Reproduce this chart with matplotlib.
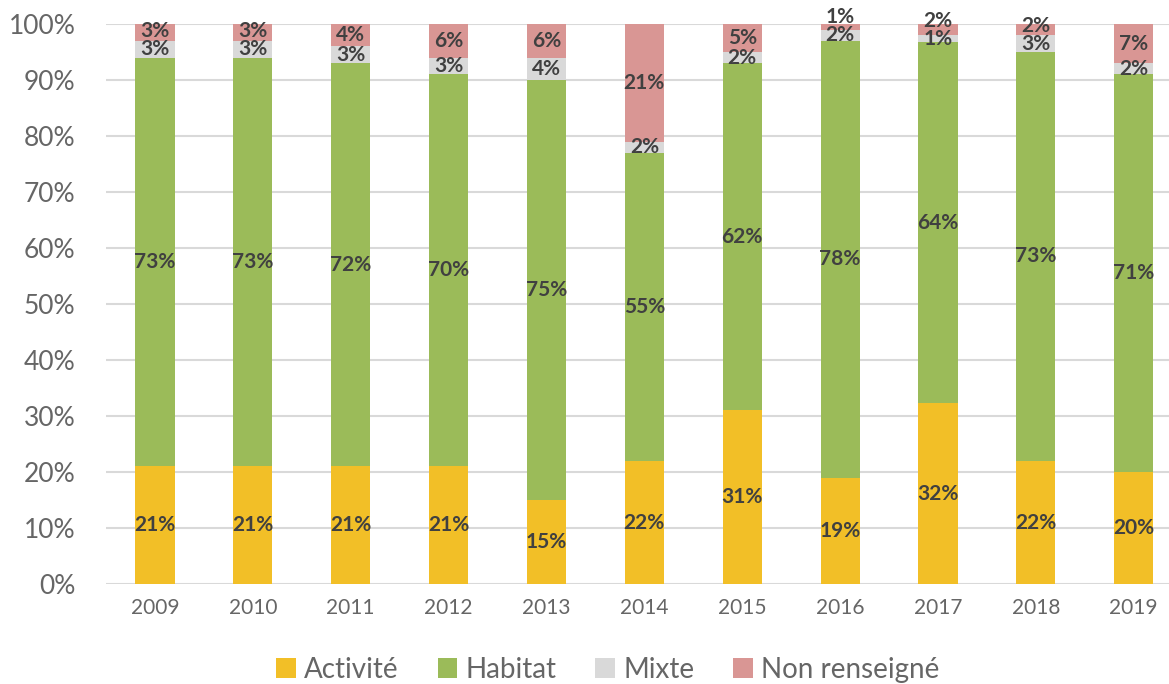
import numpy as np
import matplotlib
matplotlib.use('Agg')
import matplotlib.pyplot as plt

years = ['2009', '2010', '2011', '2012', '2013', '2014', '2015', '2016', '2017', '2018', '2019']
activite = [21, 21, 21, 21, 15, 22, 31, 19, 32.3, 22, 20]
habitat = [73, 73, 72, 70, 75, 55, 62, 78, 64.4, 73, 71]
mixte = [3, 3, 3, 3, 4, 2, 2, 2, 1.3, 3, 2]
non_renseigne = [3, 3, 4, 6, 6, 21, 5, 1, 2.0, 2, 7]

series = [('Activité', activite, '#F2BF27'),
          ('Habitat', habitat, '#9BBB59'),
          ('Mixte', mixte, '#D9D9D9'),
          ('Non renseigné', non_renseigne, '#D99694')]

plt.rcParams['font.family'] = ['Lato', 'DejaVu Sans']

fig = plt.figure(figsize=(11.69, 6.84), dpi=100)
ax = fig.add_axes([0.0907, 0.146, 0.921, 0.819])

x = np.arange(len(years))
bottom = np.zeros(len(years))
prev_label = np.full(len(years), -10.0)
for name, vals, col in series:
    vals = np.array(vals, dtype=float)
    ax.bar(x, vals, 0.4, bottom=bottom, color=col, label=name, zorder=2)
    for i, v in enumerate(vals):
        # centre of the segment, pushed up if it would sit on the label below
        y = bottom[i] + v / 2
        if y - prev_label[i] < 3.2:
            y = prev_label[i] + 3.2
        prev_label[i] = y
        ax.text(x[i], y, '{:.0f}%'.format(v), ha='center', va='center',
                fontsize=15, fontweight='bold', color='#404040', zorder=3)
    bottom += vals

ax.set_xlim(-0.5, len(years) - 0.5)
ax.set_ylim(0, 100)
ax.set_yticks(np.arange(0, 101, 10))
ax.set_yticklabels(['{}%'.format(t) for t in range(0, 101, 10)])
ax.set_xticks(x)
ax.set_xticklabels(years)
ax.tick_params(axis='y', labelsize=19, colors='#666666', length=0, pad=22)
ax.tick_params(axis='x', labelsize=15, colors='#666666', length=0, pad=10)
ax.grid(axis='y', color='#D9D9D9', linewidth=1.5, zorder=0)
ax.set_axisbelow(True)
for s in ax.spines.values():
    s.set_visible(False)

leg = fig.legend(loc='lower center', bbox_to_anchor=(0.52, -0.035), ncol=4,
                 frameon=False, fontsize=20, handlelength=0.7, handleheight=0.7,
                 handletextpad=0.3, columnspacing=1.4)
for t in leg.get_texts():
    t.set_color('#666666')

plt.savefig('out.png', dpi=100)
